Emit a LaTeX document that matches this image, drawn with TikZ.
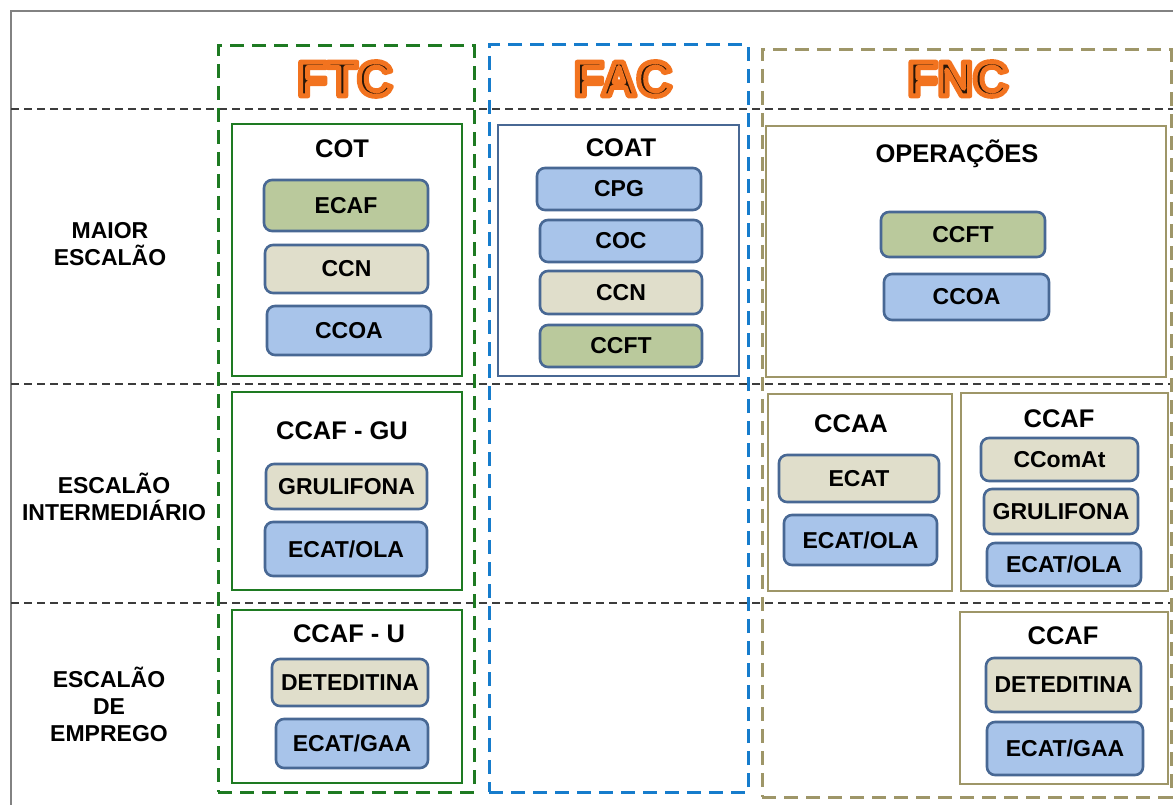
\documentclass[tikz,border=0pt]{standalone}
\usepackage{fontspec}
\setmainfont{Liberation Sans}
\definecolor{ftcgreen}{RGB}{30,122,34}
\definecolor{facblue}{RGB}{22,124,204}
\definecolor{fncolive}{RGB}{158,150,104}
\definecolor{rowdash}{RGB}{60,60,60}
\definecolor{framegray}{RGB}{130,130,130}
\definecolor{pillstroke}{RGB}{72,104,148}
\definecolor{fillgreen}{RGB}{186,201,156}
\definecolor{fillbeige}{RGB}{224,222,203}
\definecolor{fillblue}{RGB}{168,196,234}
\definecolor{headdark}{RGB}{40,22,8}
% heading text: dark fill with a wide orange outline (text render mode 2)
\newcommand{\haloed}[1]{%
  \special{pdf:literal direct 2 Tr 5 w 1 j 0.95 0.45 0.12 RG}#1\special{pdf:literal direct 0 Tr}}
\tikzset{
  base/.style={font=\fontsize{23}{27}\selectfont\bfseries, align=center, inner sep=0pt},
  headfont/.style={font=\fontsize{49}{50}\selectfont\bfseries, inner sep=0pt, text=headdark},
  column/.style={draw, dash pattern=on 14pt off 8pt, line width=3pt, inner sep=0pt},
  group/.style={draw, line width=2.8pt, inner sep=0pt, fill=white},
  pill/.style={base, draw=pillstroke, line width=2.6pt, rounded corners=8pt},
  gpill/.style={pill, fill=fillgreen},
  bpill/.style={pill, fill=fillbeige},
  lpill/.style={pill, fill=fillblue},
  title/.style={base, font=\fontsize{25.5}{28}\selectfont\bfseries},
  rowline/.style={draw=rowdash, dash pattern=on 8pt off 5pt, line width=2pt},
}
\begin{document}
\begin{tikzpicture}[x=1pt,y=-1pt]
\useasboundingbox (0,0) rectangle (1173,805);
\fill[white] (0,0) rectangle (1173,805);

% outer frame
\coordinate (frameA) at (11,805);
\coordinate (frameB) at (11,11);
\coordinate (frameC) at (1173,11);
\draw[framegray, line width=1.5pt] (frameA) -- (frameB) -- (frameC);

% row separators
\coordinate (r1a) at (11,109);  \coordinate (r1b) at (1173,109);
\coordinate (r2a) at (11,384);  \coordinate (r2b) at (1173,384);
\coordinate (r3a) at (11,603);  \coordinate (r3b) at (1173,603);
\draw[rowline] (r1a) -- (r1b);
\draw[rowline] (r2a) -- (r2b);
\draw[rowline] (r3a) -- (r3b);

% columns
\node[column, draw=ftcgreen, minimum width=256, minimum height=746] (ftc) at (346,419) {};
\node[column, draw=facblue, minimum width=259, minimum height=747] (fac) at (618.5,418.5) {};
\node[column, draw=fncolive, minimum width=409, minimum height=747] (fnc) at (966.5,423.5) {};

% column headings
\node[headfont] (tFTC) at (345,79) {\haloed{FTC}};
\node[headfont] (tFAC) at (623,79) {\haloed{FAC}};
\node[headfont] (tFNC) at (958,79) {\haloed{FNC}};

% row labels
\node[base] (rowmaior) at (110,244) {MAIOR\\ESCALÃO};
\node[base] (rowinter) at (114,497) {ESCALÃO\\INTERMEDIÁRIO};
\node[base] (rowemp) at (109,704) {ESCALÃO\\DE\\EMPREGO};

% FTC groups
\node[group, draw=ftcgreen, minimum width=230, minimum height=252] (cot) at (347,250) {};
\node[title] (cotT) at (342,149) {COT};
\node[gpill, minimum width=164, minimum height=51] (ecaf) at (346,205.5) {ECAF};
\node[bpill, minimum width=163, minimum height=48] (ccn1) at (346.5,269) {CCN};
\node[lpill, minimum width=164, minimum height=49] (ccoa1) at (349,330.5) {CCOA};

\node[group, draw=ftcgreen, minimum width=230, minimum height=198] (ccafgu) at (347,491) {};
\node[title] (ccafguT) at (342,431) {CCAF - GU};
\node[bpill, minimum width=161, minimum height=45] (grul1) at (346.5,486.5) {GRULIFONA};
\node[lpill, minimum width=162, minimum height=54] (ecatola1) at (346,549) {ECAT/OLA};

\node[group, draw=ftcgreen, minimum width=230, minimum height=173] (ccafu) at (347,696.5) {};
\node[title] (ccafuT) at (349,634) {CCAF - U};
\node[bpill, minimum width=156, minimum height=47] (detd1) at (350,682.5) {DETEDITINA};
\node[lpill, minimum width=152, minimum height=49] (ecatgaa1) at (352,743.5) {ECAT/GAA};

% FAC group
\node[group, draw=pillstroke, minimum width=241, minimum height=251] (coat) at (618.5,250.5) {};
\node[title] (coatT) at (621,148) {COAT};
\node[lpill, minimum width=164, minimum height=42] (cpg) at (619,189) {CPG};
\node[lpill, minimum width=162, minimum height=42] (coc) at (621,241) {COC};
\node[bpill, minimum width=162, minimum height=43] (ccn2) at (621,292.5) {CCN};
\node[gpill, minimum width=162, minimum height=42] (ccft2) at (621,346) {CCFT};

% FNC groups
\node[group, draw=fncolive, minimum width=400, minimum height=251] (oper) at (966,251.5) {};
\node[title] (operT) at (957,154) {OPERAÇÕES};
\node[gpill, minimum width=164, minimum height=45] (ccft3) at (963,234.5) {CCFT};
\node[lpill, minimum width=165, minimum height=46] (ccoa3) at (966.5,297) {CCOA};

\node[group, draw=fncolive, minimum width=184, minimum height=197] (ccaa) at (860,492.5) {};
\node[title] (ccaaT) at (851,424) {CCAA};
\node[bpill, minimum width=160, minimum height=47] (ecat) at (859,478.5) {ECAT};
\node[lpill, minimum width=153, minimum height=50] (ecatola2) at (860.5,540) {ECAT/OLA};

\node[group, draw=fncolive, minimum width=207, minimum height=198] (ccaf2) at (1064.5,492) {};
\node[title] (ccaf2T) at (1059,419) {CCAF};
\node[bpill, minimum width=157, minimum height=43] (ccomat) at (1059.5,459.5) {CComAt};
\node[bpill, minimum width=154, minimum height=45] (grul2) at (1061,511.5) {GRULIFONA};
\node[lpill, minimum width=154, minimum height=43] (ecatola3) at (1064,564.5) {ECAT/OLA};

\node[group, draw=fncolive, minimum width=208, minimum height=172] (ccaf3) at (1064,698) {};
\node[title] (ccaf3T) at (1063,636) {CCAF};
\node[bpill, minimum width=155, minimum height=54] (detd2) at (1063.5,685) {DETEDITINA};
\node[lpill, minimum width=156, minimum height=53] (ecatgaa2) at (1065,748.5) {ECAT/GAA};
\end{tikzpicture}
\end{document}
